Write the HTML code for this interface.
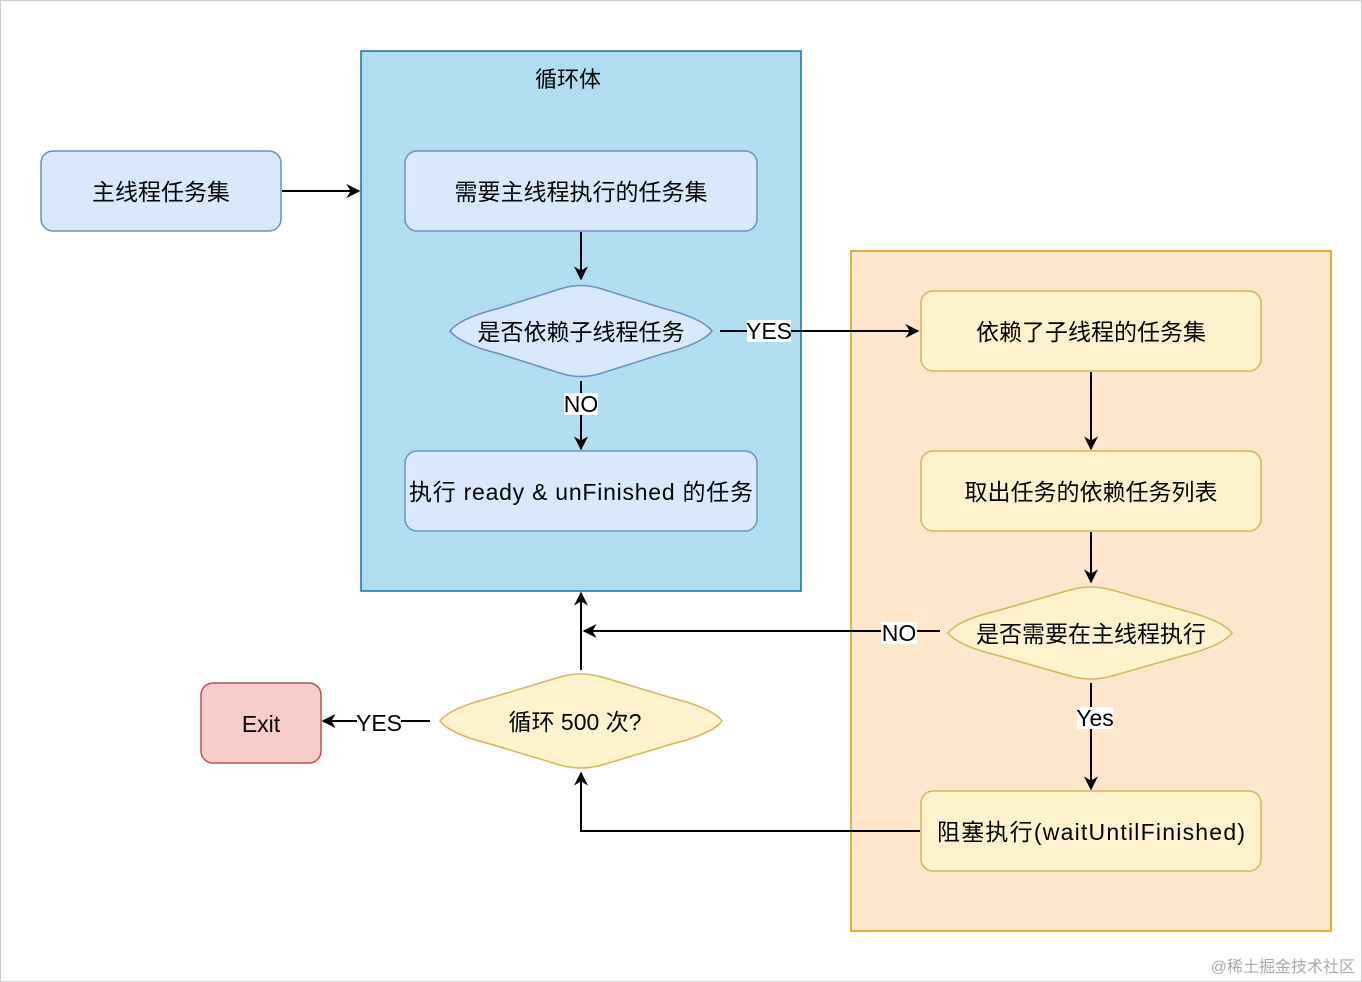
<!DOCTYPE html>
<html><head><meta charset="utf-8"><style>
html,body{margin:0;padding:0;background:#fff}
svg{display:block}
text{font-family:"Liberation Sans","Noto Sans CJK SC",sans-serif;font-size:23px;fill:#000}
</style></head><body>
<svg width="1362" height="982" viewBox="0 0 1362 982" xmlns="http://www.w3.org/2000/svg">
<defs><marker id="a" viewBox="0 0 10 10" refX="9" refY="5" markerWidth="7" markerHeight="7" orient="auto"><path d="M0,0 L10,5 L0,10 L3,5 z" fill="#000"/></marker></defs>
<rect x="0.5" y="0.5" width="1361" height="981" fill="#fff" stroke="#ccc"/>
<rect x="361" y="51" width="440" height="540" fill="#b1ddf0" stroke="#10739e" stroke-width="1.5"/>
<text x="568" y="87" text-anchor="middle" style="font-size:22px">循环体</text>
<rect x="851" y="251" width="480" height="680" fill="#ffe6cc" stroke="#d79b00" stroke-width="1.5"/>
<g stroke="#6c8ebf" stroke-width="1.5" fill="#dae8fc">
<rect x="41" y="151" width="240" height="80" rx="12"/>
<rect x="405" y="151" width="352" height="80" rx="12"/>
<rect x="405" y="451" width="352" height="80" rx="12"/>
<path d="M450,331 Q460,318 500,308 L560,289 Q581,282 602,289 L662,308 Q702,318 712,331 Q702,344 662,354 L602,373 Q581,380 560,373 L500,354 Q460,344 450,331z"/>
</g>
<g stroke="#d6b656" stroke-width="1.5" fill="#fff2cc">
<rect x="921" y="291" width="340" height="80" rx="12"/>
<rect x="921" y="451" width="340" height="80" rx="12"/>
<rect x="921" y="791" width="340" height="80" rx="12"/>
<path d="M948,633 Q958,620 1000,610 L1070,590 Q1091,584 1112,590 L1182,610 Q1222,620 1232,633 Q1222,646 1182,656 L1112,676 Q1091,682 1070,676 L1000,656 Q958,646 948,633z"/>
<path d="M440,721 Q450,708 490,698 L560,677 Q581,671 602,677 L672,698 Q712,708 722,721 Q712,734 672,744 L602,765 Q581,771 560,765 L490,744 Q450,734 440,721z"/>
</g>
<rect x="201" y="683" width="120" height="80" rx="12" fill="#f8cecc" stroke="#b85450" stroke-width="1.5"/>
<g stroke="#000" stroke-width="2" fill="none">
<path d="M282,191 H359" marker-end="url(#a)"/>
<path d="M581,232 V279" marker-end="url(#a)"/>
<path d="M720,331 H918" marker-end="url(#a)"/>
<path d="M581,381 V449" marker-end="url(#a)"/>
<path d="M1091,372 V449" marker-end="url(#a)"/>
<path d="M1091,532 V582" marker-end="url(#a)"/>
<path d="M940,631 H584" marker-end="url(#a)"/>
<path d="M1091,683 V789" marker-end="url(#a)"/>
<path d="M920,831 H581 V773" marker-end="url(#a)"/>
<path d="M581,670 V593" marker-end="url(#a)"/>
<path d="M430,721 H323" marker-end="url(#a)"/>
</g>
<g fill="#fff">
<rect x="747" y="320" width="44" height="22"/>
<rect x="564" y="393" width="34" height="22"/>
<rect x="881" y="622" width="36" height="22"/>
<rect x="1077" y="707" width="36" height="22"/>
<rect x="357" y="712" width="44" height="22"/>
</g>
<text x="161" y="200" text-anchor="middle">主线程任务集</text>
<text x="581" y="200" text-anchor="middle">需要主线程执行的任务集</text>
<text x="581" y="340" text-anchor="middle">是否依赖子线程任务</text>
<text x="581" y="500" text-anchor="middle" textLength="344">执行 ready &amp; unFinished 的任务</text>
<text x="1091" y="340" text-anchor="middle">依赖了子线程的任务集</text>
<text x="1091" y="500" text-anchor="middle">取出任务的依赖任务列表</text>
<text x="1091" y="642" text-anchor="middle">是否需要在主线程执行</text>
<text x="1091" y="840" text-anchor="middle" textLength="308">阻塞执行(waitUntilFinished)</text>
<text x="575" y="730" text-anchor="middle">循环 500 次?</text>
<text x="261" y="732" text-anchor="middle">Exit</text>
<g style="font-size:20px">
<text x="769" y="339" text-anchor="middle">YES</text>
<text x="581" y="412" text-anchor="middle">NO</text>
<text x="899" y="641" text-anchor="middle">NO</text>
<text x="1095" y="726" text-anchor="middle">Yes</text>
<text x="379" y="731" text-anchor="middle">YES</text>
</g>
<text x="1355" y="972" text-anchor="end" style="font-size:16px;fill:#aaa">@稀土掘金技术社区</text>
</svg>
</body></html>
